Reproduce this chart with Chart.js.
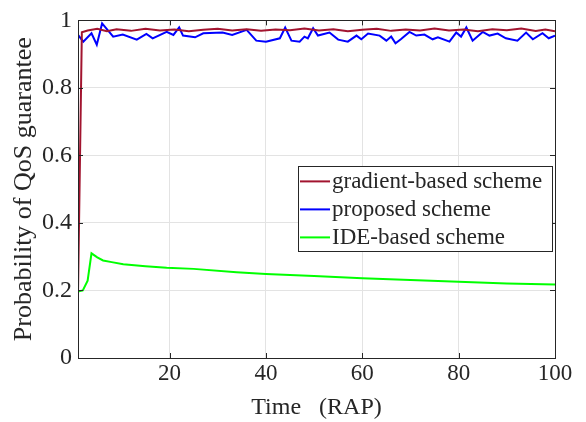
<!DOCTYPE html>
<html>
<head>
<meta charset="utf-8">
<script src="https://cdn.jsdelivr.net/npm/chart.js@4.4.0/dist/chart.umd.min.js"></script>
<style>
    html, body { margin: 0; padding: 0; background: #fff; }
    #wrap { width: 586px; height: 422px; }
</style>
</head>
<body>
<div id="wrap"><canvas id="myChart" width="586" height="422"></canvas></div>
<script>
// values
const seriesNames = ['gradient-based scheme', 'proposed scheme', 'IDE-based scheme'];
const seriesColors = ['#a2142f', '#0000ff', '#00ff00'];

const xTicks = [20, 40, 60, 80, 100];
const yTicks = [0, 0.2, 0.4, 0.6, 0.8, 1];

const gradientX = [1, 1.8, 3, 5, 7, 9, 12, 15, 18, 21, 24, 27, 30, 33, 36, 39, 42, 45, 48, 51, 54, 57, 60, 63, 66, 69, 72, 75, 78, 81, 84, 87, 90, 93, 96, 98, 100];
const gradientY = [0.19, 0.965, 0.97, 0.975, 0.968, 0.974, 0.969, 0.975, 0.97, 0.973, 0.968, 0.972, 0.975, 0.97, 0.974, 0.969, 0.973, 0.971, 0.976, 0.97, 0.974, 0.968, 0.972, 0.975, 0.969, 0.973, 0.97, 0.976, 0.97, 0.973, 0.968, 0.974, 0.971, 0.976, 0.969, 0.973, 0.968];

const proposedX = [1, 2.1, 3.8, 4.9, 6, 8.3, 10.3, 13.2, 15.2, 16.5, 19.4, 20.8, 22, 22.8, 25.3, 27, 31, 33, 36, 38, 40, 42.9, 44, 45.3, 47, 48, 48.7, 49.8, 50.8, 53.2, 55, 57, 58.8, 59.8, 61.2, 63.6, 65, 66, 66.9, 68, 69.8, 71.2, 72.9, 74.6, 75.7, 78.1, 79.5, 80.5, 81.6, 82.9, 85, 86.4, 88.1, 89.8, 92.2, 94, 95.4, 97.4, 98.7, 100];
const proposedY = [0.957, 0.937, 0.962, 0.928, 0.991, 0.952, 0.958, 0.943, 0.96, 0.947, 0.966, 0.957, 0.979, 0.955, 0.95, 0.962, 0.964, 0.957, 0.972, 0.94, 0.937, 0.947, 0.979, 0.94, 0.937, 0.952, 0.947, 0.977, 0.955, 0.964, 0.943, 0.937, 0.955, 0.944, 0.961, 0.955, 0.94, 0.952, 0.932, 0.944, 0.966, 0.955, 0.958, 0.944, 0.95, 0.937, 0.964, 0.952, 0.979, 0.94, 0.966, 0.955, 0.961, 0.947, 0.94, 0.964, 0.944, 0.962, 0.947, 0.955];

const ideX = [1, 2, 3, 3.8, 5, 6.2, 8, 10.4, 15, 19.4, 25, 33.9, 40, 50, 60, 70, 80, 90, 100];
const ideY = [0.197, 0.2, 0.229, 0.31, 0.298, 0.289, 0.284, 0.278, 0.272, 0.267, 0.264, 0.254, 0.249, 0.243, 0.236, 0.231, 0.226, 0.221, 0.218];

const TEXT = '#262626';
const SERIF = '"Liberation Serif", "Times New Roman", serif';

function toPoints(xs, ys) {
    return xs.map(function (x, i) { return { x: x, y: ys[i] }; });
}

// box round the plot + inner ticks like matlab
const boxPlugin = {
    id: 'box',
    afterDraw(chart) {
        const ctx = chart.ctx;
        const a = chart.chartArea;
        const xs = chart.scales.x, ys = chart.scales.y;
        ctx.save();
        ctx.strokeStyle = TEXT;
        ctx.lineWidth = 1;
        ctx.beginPath();
        xTicks.forEach(function (v) {
            const px = Math.round(xs.getPixelForValue(v)) + 0.5;
            ctx.moveTo(px, a.bottom); ctx.lineTo(px, a.bottom - 5);
            ctx.moveTo(px, a.top); ctx.lineTo(px, a.top + 5);
        });
        yTicks.forEach(function (v) {
            const py = Math.round(ys.getPixelForValue(v)) + 0.5;
            ctx.moveTo(a.left, py); ctx.lineTo(a.left + 5, py);
            ctx.moveTo(a.right, py); ctx.lineTo(a.right - 5, py);
        });
        ctx.stroke();
        ctx.strokeRect(Math.round(a.left) + 0.5, Math.round(a.top) + 0.5,
            Math.round(a.right - a.left), Math.round(a.bottom - a.top));
        ctx.restore();
    }
};

// legend box inside the plot area
const legendPlugin = {
    id: 'innerLegend',
    afterDraw(chart) {
        const ctx = chart.ctx;
        const a = chart.chartArea;
        const right = a.right - 3, top = a.top + 146;
        const w = 254, h = 85, rowH = 28;
        const left = right - w;
        ctx.save();
        ctx.fillStyle = '#fff';
        ctx.fillRect(left, top, w, h);
        ctx.strokeStyle = TEXT;
        ctx.lineWidth = 1;
        ctx.strokeRect(Math.round(left) + 0.5, Math.round(top) + 0.5, w, h);
        ctx.font = '23px ' + SERIF;
        ctx.textBaseline = 'middle';
        chart.data.datasets.forEach(function (ds, i) {
            const y = top + 15 + i * rowH;
            ctx.strokeStyle = ds.borderColor;
            ctx.lineWidth = 2;
            ctx.beginPath();
            ctx.moveTo(left + 2, y); ctx.lineTo(left + 32, y);
            ctx.stroke();
            ctx.fillStyle = TEXT;
            ctx.fillText(ds.label, left + 34, y + 1);
        });
        ctx.restore();
    }
};

const datasets = [
    { label: seriesNames[0], data: toPoints(gradientX, gradientY), borderColor: seriesColors[0] },
    { label: seriesNames[1], data: toPoints(proposedX, proposedY), borderColor: seriesColors[1] },
    { label: seriesNames[2], data: toPoints(ideX, ideY), borderColor: seriesColors[2] }
];
datasets.forEach(function (ds) {
    ds.borderWidth = 2;
    ds.pointRadius = 0;
    ds.tension = 0;
    ds.fill = false;
});

const ctx = document.getElementById('myChart');
const myChart = new Chart(ctx, {
    type: 'line',
    data: { datasets: datasets },
    options: {
        responsive: false,
        animation: false,
        events: [],
        layout: { padding: { top: 17, right: 31, left: 0, bottom: 0 } },
        plugins: {
            legend: { display: false },
            tooltip: { enabled: false }
        },
        scales: {
            x: {
                type: 'linear',
                min: 1,
                max: 100,
                afterBuildTicks: function (scale) {
                    scale.ticks = xTicks.map(function (v) { return { value: v }; });
                },
                afterFit: function (scale) { scale.height = 64; },
                grid: { color: '#e3e3e3', drawTicks: false },
                border: { display: false },
                ticks: { color: TEXT, font: { family: SERIF, size: 23 }, padding: 2, maxRotation: 0 },
                title: {
                    display: true,
                    text: 'Time   (RAP)',
                    color: TEXT,
                    font: { family: SERIF, size: 24 },
                    padding: { top: 0, bottom: 0 }
                }
            },
            y: {
                type: 'linear',
                min: 0,
                max: 1,
                afterBuildTicks: function (scale) {
                    scale.ticks = yTicks.map(function (v) { return { value: v }; });
                },
                afterFit: function (scale) { scale.width = 78; },
                grid: { color: '#e3e3e3', drawTicks: false },
                border: { display: false },
                ticks: {
                    color: TEXT,
                    font: { family: SERIF, size: 24 },
                    padding: 6,
                    callback: function (v) { return String(v); }
                },
                title: {
                    display: true,
                    text: 'Probability of QoS guarantee',
                    color: TEXT,
                    font: { family: SERIF, size: 26 },
                    padding: { top: 9, bottom: 0 }
                }
            }
        }
    },
    plugins: [boxPlugin, legendPlugin]
});
</script>
</body>
</html>
